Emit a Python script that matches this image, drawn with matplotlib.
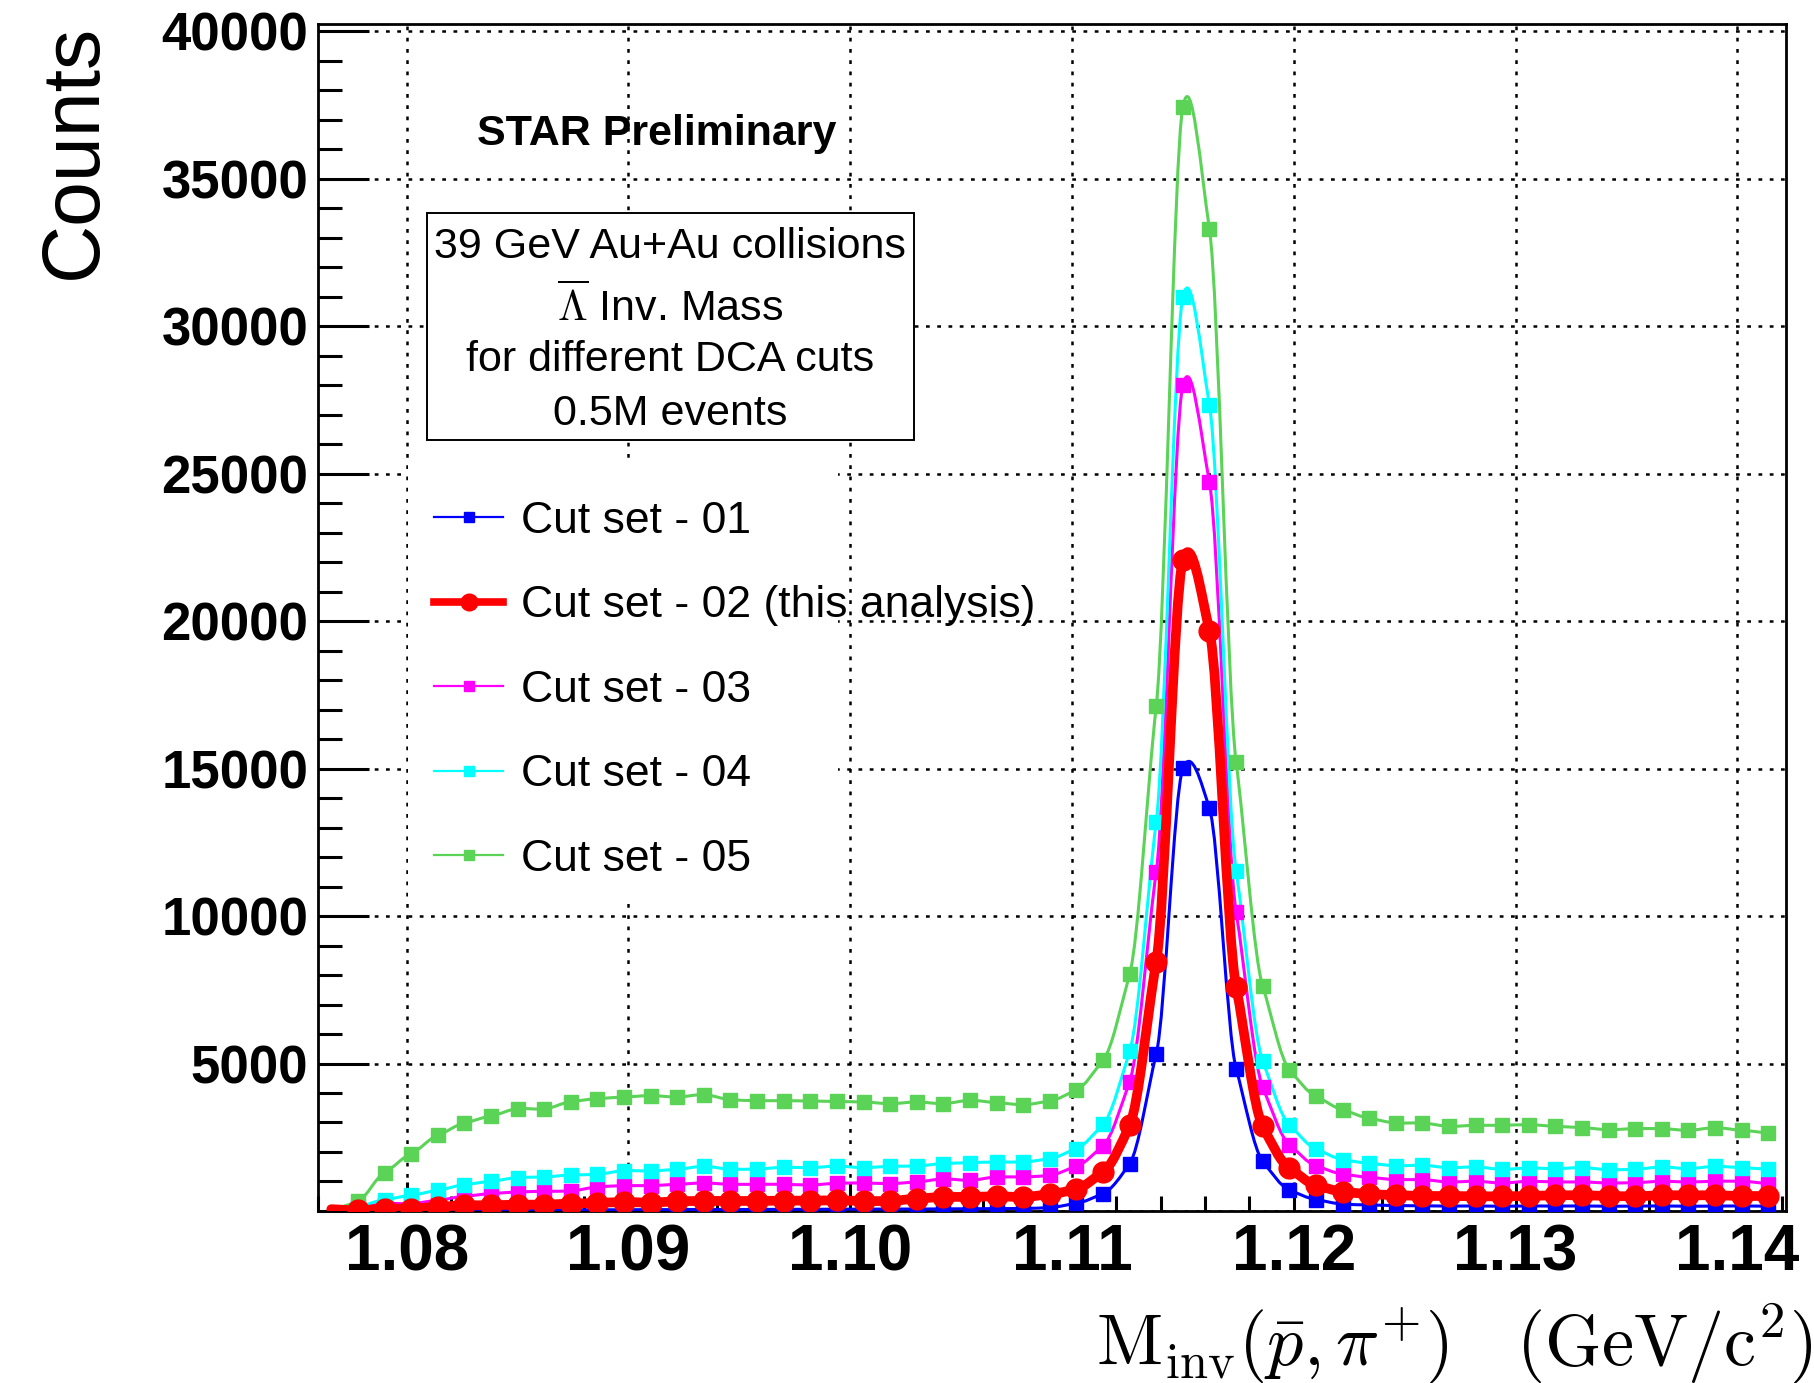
import numpy as np
import matplotlib
matplotlib.use("Agg")
import matplotlib.pyplot as plt
from matplotlib.path import Path
from matplotlib.patches import PathPatch, Rectangle
from matplotlib.lines import Line2D
from matplotlib.ticker import MultipleLocator, FuncFormatter

plt.rcParams['font.family'] = ['Liberation Sans', 'DejaVu Sans']
plt.rcParams['mathtext.fontset'] = 'cm'

# bin centres of the invariant mass histogram (GeV/c^2)
mass = np.round(1.0766 + 0.0012 * np.arange(55), 4)

cut01 = [0, 10, 15, 20, 20, 25, 30, 30, 35, 35, 40, 40, 45, 45, 50, 50, 50, 55, 55, 60,
         60, 65, 65, 70, 75, 80, 85, 115, 260, 590, 1606, 5325, 15007, 13650, 4830, 1686, 713, 385, 233, 204,
         182, 175, 165, 170, 160, 170, 165, 170, 160, 165, 170, 160, 165, 170, 160]
cut02 = [60, 20, 80, 80, 136, 192, 192, 215, 215, 250, 271, 305, 282, 328, 339, 339, 339, 350, 350, 360,
         339, 339, 418, 475, 475, 497, 475, 565, 745, 1320, 2905, 8447, 22073, 19674, 7610, 2873, 1455, 871, 656, 570,
         538, 508, 508, 497, 497, 508, 531, 531, 508, 497, 531, 531, 531, 508, 508]
cut03 = [10, 100, 250, 250, 362, 497, 588, 644, 667, 678, 814, 859, 859, 904, 949, 904, 904, 904, 881, 938,
         949, 927, 983, 1085, 1040, 1153, 1153, 1209, 1514, 2215, 4390, 11500, 28010, 24708, 10143, 4200, 2250, 1530, 1250, 1140,
         1063, 1062, 983, 1006, 949, 1006, 983, 983, 949, 960, 1006, 983, 1006, 1006, 927]
cut04 = [20, 150, 384, 531, 700, 893, 1006, 1130, 1153, 1220, 1243, 1367, 1356, 1413, 1514, 1413, 1424, 1480, 1469, 1520,
         1469, 1514, 1526, 1605, 1639, 1661, 1661, 1774, 2113, 2935, 5410, 13196, 31004, 27330, 11534, 5088, 2920, 2100, 1742, 1615,
         1535, 1548, 1469, 1492, 1413, 1458, 1435, 1469, 1401, 1413, 1492, 1435, 1514, 1469, 1413]
cut05 = [30, 330, 1300, 1944, 2565, 2983, 3220, 3469, 3458, 3706, 3808, 3865, 3910, 3865, 3944, 3774, 3740, 3740, 3729, 3712,
         3695, 3639, 3695, 3639, 3752, 3673, 3605, 3730, 4100, 5110, 8030, 17120, 37450, 33290, 15231, 7622, 4795, 3890, 3430, 3140,
         2985, 2983, 2870, 2904, 2904, 2927, 2870, 2825, 2757, 2791, 2791, 2735, 2825, 2735, 2644]

labels = ["Cut set - 01", "Cut set - 02 (this analysis)", "Cut set - 03",
          "Cut set - 04", "Cut set - 05"]
colors = ["#0000ff", "#ff0000", "#ff00ff", "#00ffff", "#5ad357"]
series = [cut01, cut02, cut03, cut04, cut05]


def smooth_path(x, y, k=1 / 11):
    # cardinal spline through the points, as cubic bezier segments
    n = len(x)
    verts = [(x[0], y[0])]
    codes = [Path.MOVETO]
    for i in range(n - 1):
        a = max(i - 1, 0)
        d = min(i + 2, n - 1)
        c1 = (x[i] + (x[i + 1] - x[a]) / 6, y[i] + (y[i + 1] - y[a]) * k)
        c2 = (x[i + 1] - (x[d] - x[i]) / 6, y[i + 1] - (y[d] - y[i]) * k)
        verts += [c1, c2, (x[i + 1], y[i + 1])]
        codes += [Path.CURVE4] * 3
    return Path(verts, codes)


fig = plt.figure(figsize=(18.14, 13.83), dpi=100)
ax = fig.add_axes([0.1753, 0.1244, 0.8093, 0.8582])

draw_order = [0, 2, 3, 4, 1]
for i in draw_order:
    thick = (i == 1)
    lw = 7.0 if thick else 2.2
    ax.add_patch(PathPatch(smooth_path(mass, np.array(series[i], float)), fill=False,
                           edgecolor=colors[i], lw=lw, capstyle='round', joinstyle='round',
                           zorder=3 + (1 if thick else 0)))
    ax.plot(mass[1:], series[i][1:], linestyle='none',
            marker='o' if thick else 's', ms=15 if thick else 9.5,
            color=colors[i], mec=colors[i], zorder=3.5 + (1 if thick else 0))

ax.set_xlim(1.076, 1.1422)
ax.set_ylim(0, 40250)

ax.xaxis.set_major_locator(MultipleLocator(0.01))
ax.xaxis.set_minor_locator(MultipleLocator(0.002))
ax.yaxis.set_major_locator(MultipleLocator(5000))
ax.yaxis.set_minor_locator(MultipleLocator(1000))
ax.xaxis.set_major_formatter(FuncFormatter(lambda v, p: f"{v:.2f}"))
ax.yaxis.set_major_formatter(FuncFormatter(lambda v, p: "" if v == 0 else f"{v:.0f}"))

ax.tick_params(axis='x', which='major', direction='in', length=21, width=2.2,
               labelsize=46, pad=9, top=False)
ax.tick_params(axis='x', which='minor', direction='in', length=11, width=2.2, top=False)
ax.tick_params(axis='y', which='major', direction='in', length=37, width=2.2,
               labelsize=38, pad=7, right=False)
ax.tick_params(axis='y', which='minor', direction='in', length=17, width=2.2, right=False)
for lab in ax.get_xticklabels() + ax.get_yticklabels():
    lab.set_fontweight('bold')

ax.grid(True, which='major', color='black', linestyle=(0, (1.5, 3)), linewidth=1.8)
ax.set_axisbelow(True)
for s in ax.spines.values():
    s.set_linewidth(2)

fig.text(0.0413, 0.983, "Counts", rotation=90, ha='center', va='top', fontsize=58)
fig.text(0.999, 0.013, r'$\mathrm{M_{inv}}(\bar{p},\pi^{+})\quad(\mathrm{GeV/c^{2}})$',
         ha='right', va='baseline', fontsize=52)

fig.text(0.263, 0.9028, "STAR Preliminary", fontsize=31, fontweight='bold', va='center')

fig.add_artist(Rectangle((0.2354, 0.6819), 0.2685, 0.1641, transform=fig.transFigure,
                         fill=True, facecolor='white', edgecolor='black', lw=1.4, zorder=5))
box_lines = ["39 GeV Au+Au collisions", r"$\overline{\Lambda}$ Inv. Mass",
             "for different DCA cuts", "0.5M events"]
box_y = [0.8214, 0.7780, 0.7397, 0.7006]
for t, yy in zip(box_lines, box_y):
    fig.text(0.3693, yy, t, ha='center', va='center', fontsize=31, zorder=6)

# white legend pad hiding the grid (narrower than the longest entry, as in ROOT)
ax.add_patch(Rectangle((0.2249, 0.3514), 0.2371, 0.3147, transform=fig.transFigure,
                       facecolor='white', edgecolor='none', zorder=1))

handles = []
for i in range(5):
    thick = (i == 1)
    handles.append(Line2D([], [], color=colors[i], lw=5.5 if thick else 1.6,
                          marker='o' if thick else 's', ms=12 if thick else 6.5))
leg = fig.legend(handles, labels, loc='upper left', bbox_to_anchor=(0.2393, 0.638),
                 bbox_transform=fig.transFigure, frameon=False, fontsize=32,
                 handlelength=1.56, handletextpad=0.4, labelspacing=0.98,
                 borderpad=0, borderaxespad=0)

fig.savefig("out.png", dpi=100)
